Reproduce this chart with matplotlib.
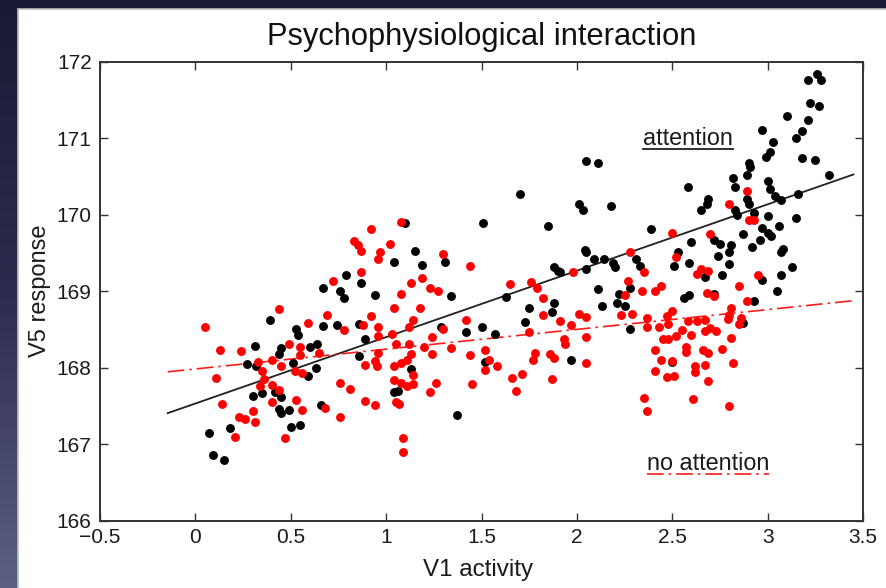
import matplotlib
matplotlib.use("Agg")
import matplotlib.pyplot as plt
import numpy as np
from matplotlib.colors import LinearSegmentedColormap
from matplotlib.patches import Rectangle
from matplotlib.lines import Line2D

plt.rcParams['font.family'] = ['Liberation Sans', 'DejaVu Sans']

# V1 activity / V5 response pairs, attention condition
attn_x = [0.79, 0.87, 0.67, 0.76, 0.78, 0.94, 0.39, 0.67, 0.74, 0.86, 0.53, 0.54, 0.89, 0.31, 0.45,
          0.44, 0.60, 0.64, 0.86, 0.27, 0.32, 0.51, 0.63, 0.59, 0.30, 0.35, 0.42, 0.45, 0.44, 0.49,
          0.45, 0.66, 0.07, 0.18, 0.50, 0.55, 0.09, 0.15,
          1.70, 2.01, 2.03, 2.18, 1.51, 1.85, 1.10, 1.15, 1.04, 1.19, 1.31, 1.34, 2.04, 2.05, 2.09,
          2.14, 2.19, 2.20, 1.88, 1.90, 1.91, 2.05, 1.63, 1.75, 1.88, 1.87, 1.73, 2.11, 2.13, 2.22,
          2.21, 1.29, 1.42, 1.50, 1.57, 1.52, 1.97, 1.13, 1.04, 1.06, 1.37, 2.05, 2.11,
          3.26, 3.28, 3.21, 3.22, 3.27, 3.10, 3.21, 2.97, 3.18, 3.15, 3.03, 3.01, 2.99, 3.18, 3.25,
          2.90, 2.91, 2.89, 2.82, 2.83, 3.32, 2.58, 3.00, 3.01, 3.04, 3.07, 3.16, 2.69, 2.68, 2.65,
          2.89, 2.90, 2.83, 2.84, 2.93, 3.00, 3.15, 2.39, 2.60, 2.72, 2.75, 2.87, 3.00, 2.97, 3.06,
          3.02, 2.96, 2.81, 2.80, 2.92, 3.08, 3.07, 2.53, 2.74, 2.31,
          2.33, 2.51, 2.59, 2.80, 2.76, 2.67, 2.97, 3.07, 3.13, 3.05, 2.28, 2.25, 2.56, 2.59, 2.72,
          2.93, 2.87, 2.28, 2.50]
attn_y = [169.21, 169.11, 169.04, 169.01, 168.92, 168.95, 168.63, 168.55, 168.56, 168.58, 168.51,
          168.43, 168.38, 168.29, 168.26, 168.18, 168.27, 168.31, 168.16, 168.05, 168.03, 168.07,
          168.00, 167.90, 167.64, 167.67, 167.68, 167.62, 167.46, 167.45, 167.41, 167.52, 167.15,
          167.21, 167.23, 167.25, 166.86, 166.80,
          170.27, 170.15, 170.06, 170.12, 169.89, 169.86, 169.89, 169.53, 169.39, 169.35, 169.38,
          168.94, 169.54, 169.51, 169.42, 169.43, 169.37, 169.32, 169.32, 169.27, 169.25, 169.30,
          168.93, 168.78, 168.85, 168.73, 168.60, 169.03, 168.81, 168.97, 168.85, 168.53, 168.47,
          168.54, 168.44, 168.08, 168.10, 167.99, 167.69, 167.70, 167.38, 170.70, 170.68,
          171.84, 171.77, 171.76, 171.47, 171.43, 171.30, 171.24, 171.11, 171.10, 171.01, 170.96,
          170.83, 170.76, 170.74, 170.72, 170.68, 170.63, 170.52, 170.48, 170.37, 170.52, 170.37,
          170.45, 170.34, 170.25, 170.20, 170.27, 170.21, 170.14, 170.07, 170.21, 170.14, 170.07,
          170.00, 170.02, 169.99, 169.96, 169.82, 169.65, 169.67, 169.62, 169.75, 169.76, 169.83,
          169.85, 169.72, 169.67, 169.61, 169.52, 169.58, 169.56, 169.52, 169.51, 169.46, 169.43,
          169.33, 169.33, 169.37, 169.36, 169.22, 169.19, 169.15, 169.21, 169.32, 169.00, 169.04,
          168.81, 168.91, 168.95, 168.97, 168.87, 168.59, 168.51, 168.08]

# V1 activity / V5 response pairs, no-attention condition
noattn_x = [0.92, 0.83, 0.85, 0.87, 0.97, 0.96, 0.87, 0.72, 0.44, 0.05, 0.69, 0.59, 0.92, 0.88, 0.78,
            0.96, 0.96, 0.13, 0.24, 0.49, 0.55, 0.55, 0.65, 0.96, 0.33, 0.40, 0.45, 0.52, 0.56, 0.35,
            0.11, 0.36, 0.34, 0.40, 0.44, 0.89, 0.94, 0.95, 0.76, 0.81, 0.14, 0.40, 0.53, 0.56, 0.68,
            0.89, 0.94, 0.30, 0.23, 0.26, 0.31, 0.76, 0.21, 0.47,
            1.08, 1.02, 1.30, 1.44, 1.13, 1.19, 1.23, 1.27, 1.08, 1.04, 1.18, 1.14, 1.12, 1.65, 1.76,
            1.79, 1.82, 1.98, 1.42, 1.30, 1.82, 1.91, 1.97, 2.01, 2.05, 2.05, 1.75, 1.93, 1.94, 1.03,
            1.05, 1.12, 1.20, 1.24, 1.34, 1.13, 1.24, 1.44, 1.52, 1.54, 1.58, 1.52, 1.78, 1.77, 1.86,
            1.88, 2.05, 1.04, 1.08, 1.11, 1.14, 1.04, 1.08, 1.11, 1.14, 1.26, 1.23, 1.45, 1.66, 1.71,
            1.68, 1.87, 1.05, 1.07, 1.09, 1.09,
            2.89, 2.80, 2.90, 2.93, 2.50, 2.70, 2.28, 2.52, 2.35, 2.27, 2.25, 2.34, 2.41, 2.44, 2.65,
            2.69, 2.63, 2.68, 2.72, 2.95, 2.85, 2.89, 2.81, 2.80, 2.79, 2.86, 2.85, 2.23, 2.29, 2.37,
            2.37, 2.43, 2.48, 2.47, 2.50, 2.55, 2.58, 2.63, 2.67, 2.60, 2.52, 2.45, 2.48, 2.67, 2.70,
            2.73, 2.81, 2.41, 2.57, 2.57, 2.66, 2.69, 2.76, 2.44, 2.50, 2.82, 2.62, 2.62, 2.67, 2.41,
            2.47, 2.51, 2.69, 2.35, 2.37, 2.61, 2.80]
noattn_y = [169.82, 169.66, 169.61, 169.53, 169.51, 169.43, 169.25, 169.14, 168.77, 168.53, 168.69,
            168.59, 168.68, 168.56, 168.50, 168.53, 168.42, 168.23, 168.22, 168.31, 168.27, 168.17,
            168.20, 168.20, 168.08, 168.11, 168.02, 167.96, 167.93, 167.96, 167.87, 167.86, 167.76,
            167.78, 167.71, 168.04, 168.09, 168.03, 167.80, 167.73, 167.53, 167.56, 167.58, 167.45,
            167.48, 167.57, 167.52, 167.44, 167.36, 167.33, 167.30, 167.36, 167.10, 167.09,
            169.91, 169.62, 169.49, 169.33, 169.11, 169.17, 169.04, 169.00, 168.97, 168.79, 168.78,
            168.63, 168.53, 169.10, 169.12, 169.04, 168.92, 169.25, 168.63, 168.51, 168.69, 168.61,
            168.56, 168.71, 168.67, 168.40, 168.47, 168.38, 168.32, 168.44, 168.32, 168.32, 168.28,
            168.40, 168.26, 168.18, 168.18, 168.17, 168.23, 168.10, 168.03, 167.97, 168.19, 168.11,
            168.18, 168.13, 168.07, 168.02, 168.06, 168.10, 167.91, 167.84, 167.80, 167.76, 167.79,
            167.81, 167.68, 167.79, 167.87, 167.92, 167.70, 167.85, 167.56, 167.53, 167.09, 166.90,
            170.31, 170.14, 169.93, 169.93, 169.76, 169.75, 169.51, 169.45, 169.26, 169.14, 168.96,
            169.01, 169.01, 169.07, 169.29, 169.27, 169.23, 168.98, 168.94, 169.22, 169.07, 168.87,
            168.79, 168.69, 168.64, 168.65, 168.58, 168.69, 168.71, 168.65, 168.53, 168.53, 168.58,
            168.68, 168.74, 168.50, 168.61, 168.61, 168.63, 168.43, 168.42, 168.38, 168.38, 168.49,
            168.52, 168.48, 168.39, 168.24, 168.28, 168.21, 168.24, 168.20, 168.25, 168.10, 168.09,
            168.06, 168.03, 167.95, 168.04, 167.96, 167.88, 167.89, 167.83, 167.61, 167.44, 167.60,
            167.50]

# fitted regression lines (end points)
fit_x = [-0.145, 3.45]
attn_fit = [167.41, 170.53]
noattn_fit = [167.95, 168.88]

x_ticks = [-0.5, 0, 0.5, 1, 1.5, 2, 2.5, 3, 3.5]
x_ticklabels = ['\u22120.5', '0', '0.5', '1', '1.5', '2', '2.5', '3', '3.5']
y_ticks = [166, 167, 168, 169, 170, 171, 172]

W, H = 886, 588
fig = plt.figure(figsize=(W / 100, H / 100), dpi=100)

# slide backdrop: navy gradient with a white panel
bg = fig.add_axes([0, 0, 1, 1], zorder=-10)
bg.set_axis_off()
slide = LinearSegmentedColormap.from_list('slide', ['#1a1a35', '#2c2c4e', '#5c6084'])
bg.imshow(np.linspace(0, 1, 256)[:, None], aspect='auto', cmap=slide,
          extent=[0, 1, 0, 1], origin='upper')
bg.add_patch(Rectangle((18 / W, -0.01), 1.0, 1.01 - 9 / H, facecolor='white',
                       edgecolor='#bdbdbd', lw=1.2))
bg.set_xlim(0, 1)
bg.set_ylim(0, 1)

ax = fig.add_axes([100 / W, 1 - 521 / H, 763 / W, 459 / H])
ax.set_xlim(-0.5, 3.5)
ax.set_ylim(166, 172)

dashdot = (0, (10, 3, 1.5, 3))
ax.plot(fit_x, attn_fit, color='#202020', lw=1.3, zorder=2)
ax.plot(fit_x, noattn_fit, color='#ff1a1a', lw=1.2, linestyle=dashdot, zorder=2)

ax.plot(attn_x, attn_y, 'o', color='black', ms=6.4, mew=0, zorder=3)
ax.plot(noattn_x, noattn_y, 'o', color='#ff0000', ms=6.4, mew=0, zorder=4)

ax.set_xticks(x_ticks)
ax.set_xticklabels(x_ticklabels)
ax.set_yticks(y_ticks)
ax.tick_params(direction='in', top=True, right=True, length=6, width=1.0,
               color='#333333', labelsize=15, labelcolor='#1a1a1a')
ax.tick_params(axis='x', pad=5)
ax.tick_params(axis='y', pad=6)
for sp in ax.spines.values():
    sp.set_color('#333333')
    sp.set_linewidth(1.4)

ax.set_title('Psychophysiological interaction', fontsize=22.2, color='#111111', pad=12)
ax.set_xlabel('V1 activity', fontsize=17.4, color='#1a1a1a')
ax.set_ylabel('V5 response', fontsize=17, color='#1a1a1a')
ax.xaxis.set_label_coords(0.4961, -0.083)
ax.yaxis.set_label_coords(-0.064, 0.501)

t1 = ax.text(2.347, 170.91, 'attention', fontsize=16.8, color='#1a1a1a', va='baseline')
t2 = ax.text(2.367, 166.67, 'no attention', fontsize=16.8, color='#1a1a1a', va='baseline')

# underline each label with its condition's line style
fig.canvas.draw()
renderer = fig.canvas.get_renderer()
inv = ax.transData.inverted()
for t, style in ((t1, dict(color='#202020', lw=1.3, linestyle='-')),
                 (t2, dict(color='#ff1a1a', lw=1.2, linestyle=dashdot))):
    bb = t.get_window_extent(renderer)
    (x0, y0), (x1, _) = inv.transform([(bb.x0, bb.y0 + 1), (bb.x1, bb.y0 + 1)])
    ax.add_line(Line2D([x0, x1], [y0, y0], zorder=2, **style))

fig.savefig('out.png', dpi=100)
